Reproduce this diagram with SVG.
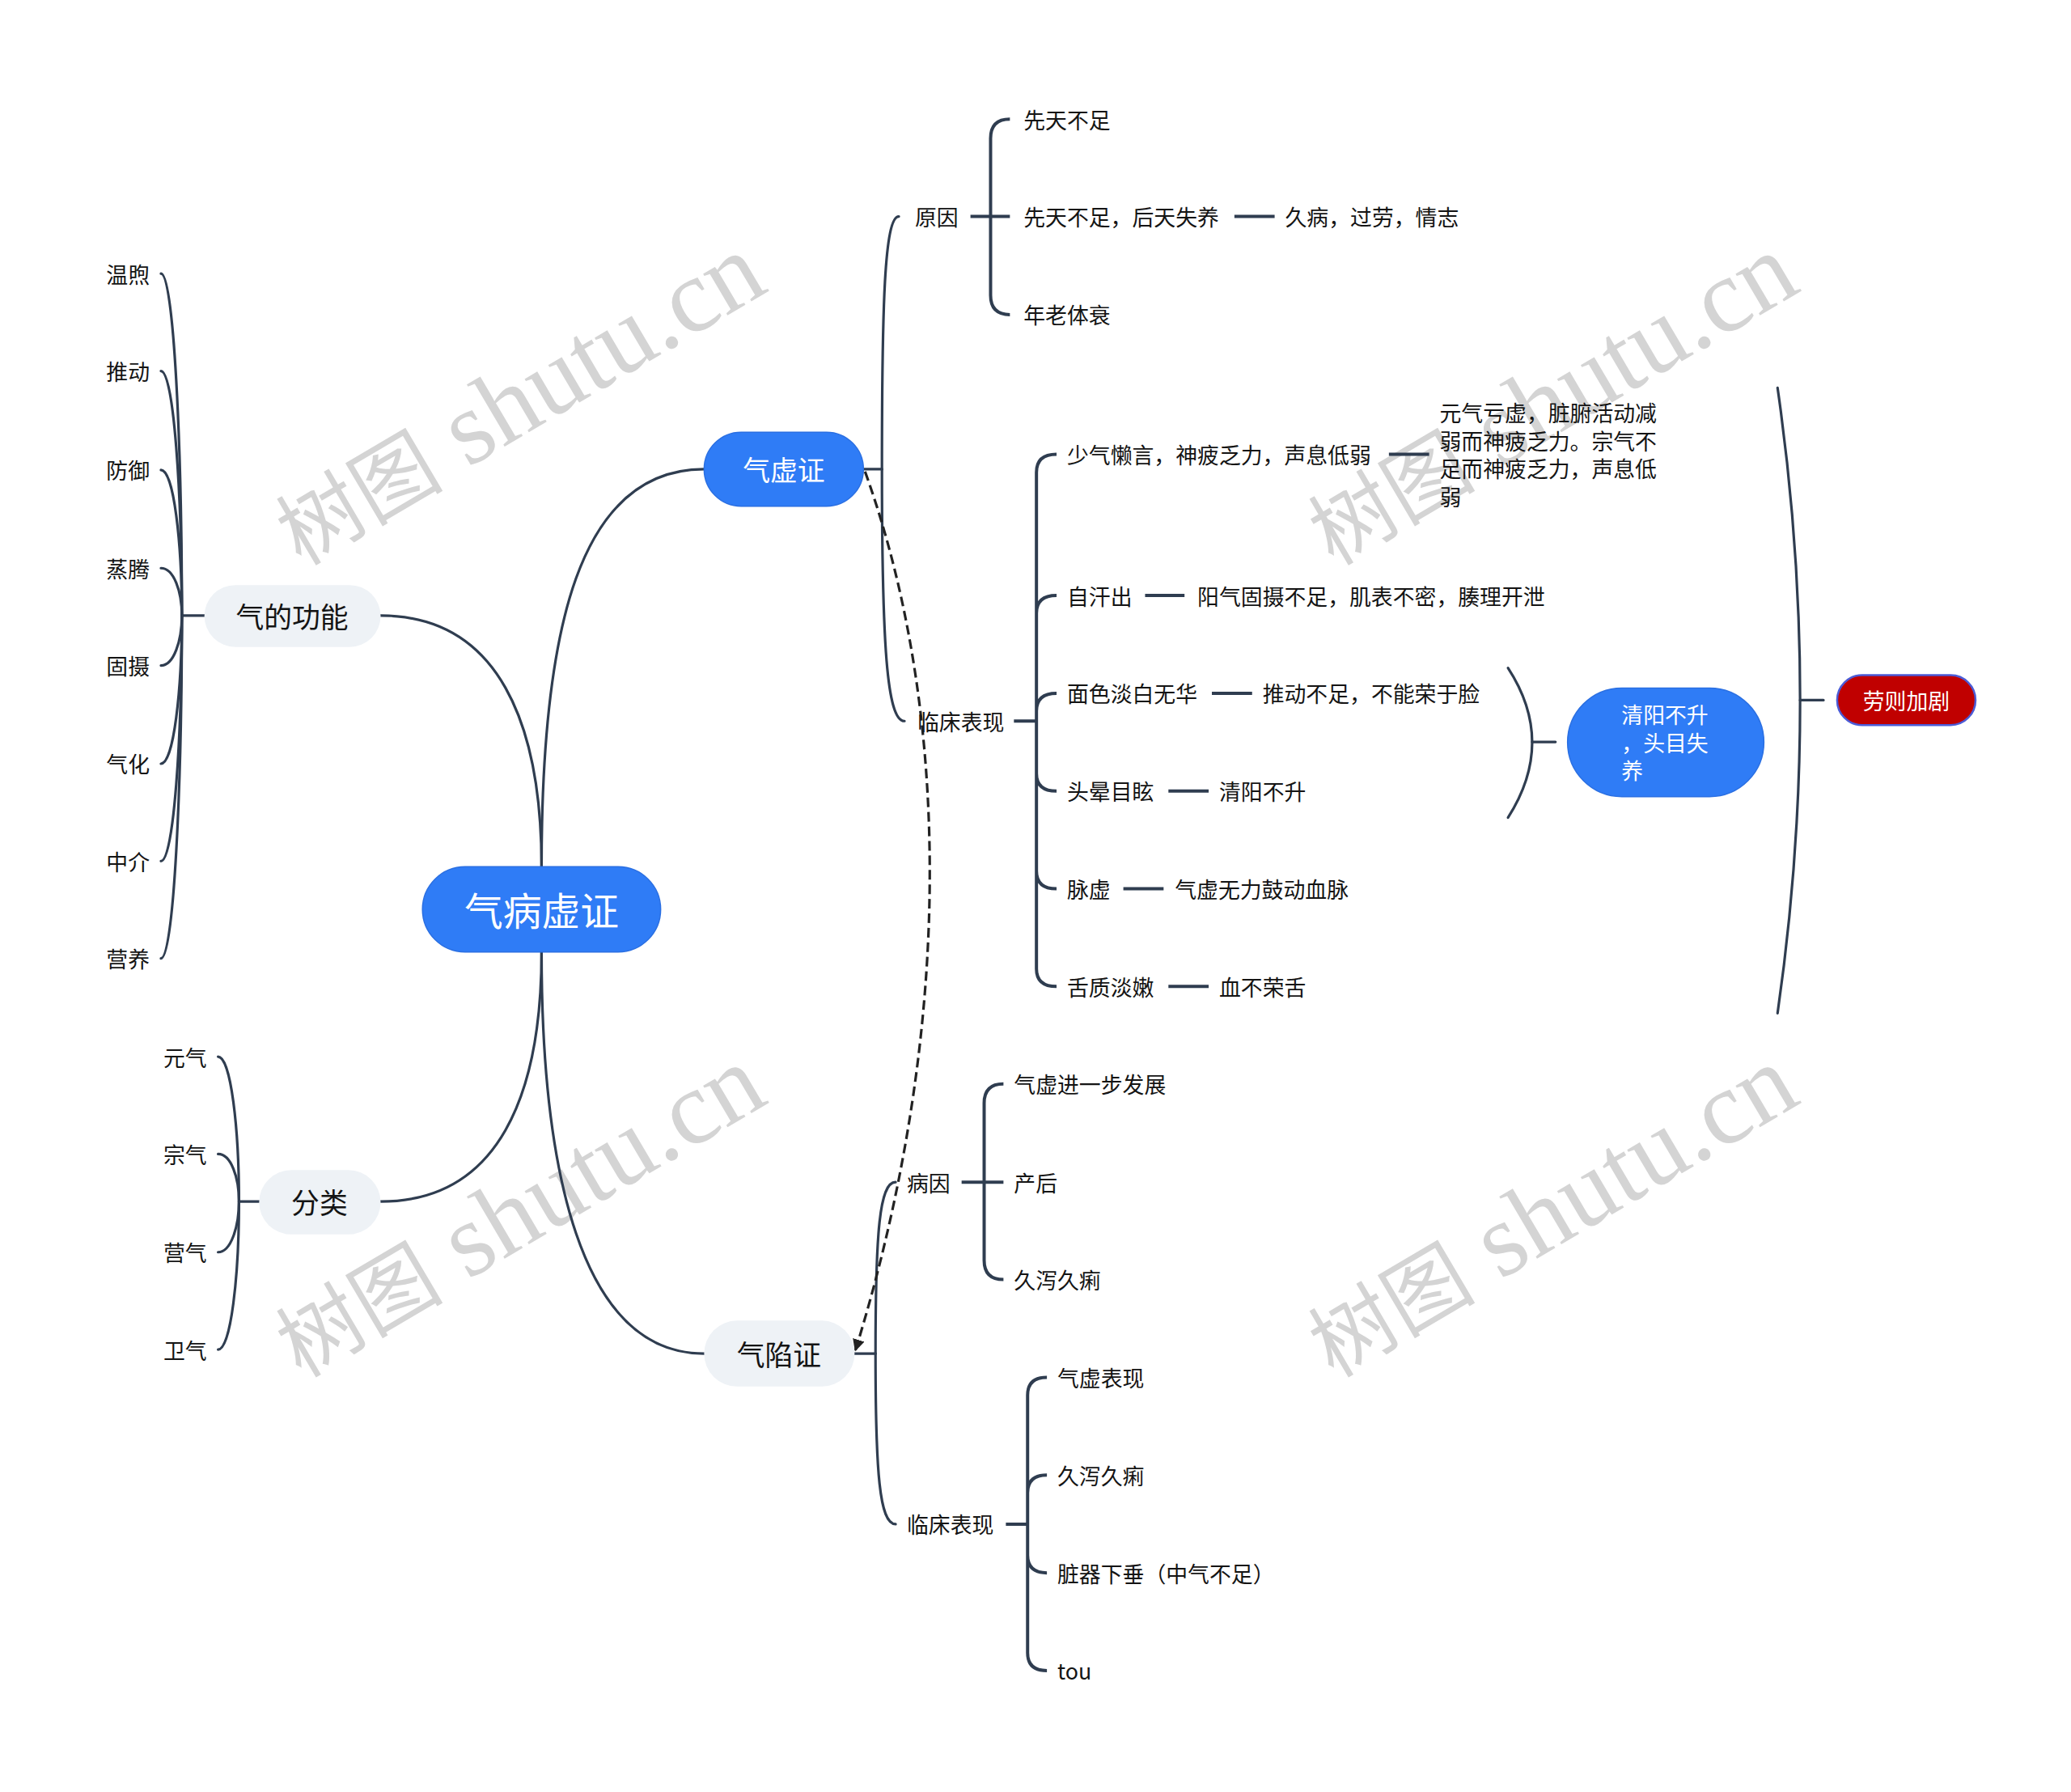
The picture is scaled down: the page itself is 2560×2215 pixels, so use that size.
<svg xmlns="http://www.w3.org/2000/svg" width="2560" height="2215" viewBox="0 0 2560 2215">
<defs>
<style>
.c{fill:none;stroke:#2f3d50;stroke-width:3.2;stroke-linecap:round}
.b{fill:none;stroke:#2f3d50;stroke-width:4}
.d{fill:none;stroke:#222;stroke-width:3.2;stroke-dasharray:12 6}
.t{font-family:"Noto Sans CJK SC","Noto Sans",sans-serif;font-size:27px;fill:#141414;dominant-baseline:central}
.tw{fill:#ffffff}
.big{font-size:35px}
.w{font-family:"Liberation Serif","Noto Sans CJK SC",serif;font-size:130px;fill:#d4d4d4}
.wc{font-size:104px}
.blue{fill:#2f7cf6;stroke:#2a6fe2;stroke-width:1.5}
.lt{fill:#eef2f6}
</style>
<marker id="ah" viewBox="0 0 10 10" refX="9" refY="5" markerWidth="15" markerHeight="15" markerUnits="userSpaceOnUse" orient="auto"><path d="M0,0 L10,5 L0,10 z" fill="#222"/></marker>
</defs>
<rect x="0" y="0" width="2560" height="2215" fill="#ffffff"/>
<g transform="scale(0.9947)">
<g id="watermarks">
<text class="w" transform="translate(374,704) rotate(-30.5)"><tspan class="wc">树图</tspan> shutu.cn</text>
<text class="w" transform="translate(1657,704) rotate(-30.5)"><tspan class="wc">树图</tspan> shutu.cn</text>
<text class="w" transform="translate(374,1713) rotate(-30.5)"><tspan class="wc">树图</tspan> shutu.cn</text>
<text class="w" transform="translate(1657,1713) rotate(-30.5)"><tspan class="wc">树图</tspan> shutu.cn</text>
</g>
<g id="connectors">
<path class="c" d="M673,1077 C673,780 720,583 875,583"/>
<path class="c" d="M673,1077 C673,900 620,765 473,765"/>
<path class="c" d="M673,1183 C673,1360 620,1493 473,1493"/>
<path class="c" d="M673,1183 C673,1450 720,1682 875,1682"/>
<path class="c" d="M254,765 L226,765"/>
<path class="c" d="M226,765 C226,552 216,340 200,340"/>
<path class="c" d="M226,765 C226,613 216,461 200,461"/>
<path class="c" d="M226,765 C226,674 216,584 200,584"/>
<path class="c" d="M226,765 C226,735 216,706 200,706"/>
<path class="c" d="M226,765 C226,796 216,827 200,827"/>
<path class="c" d="M226,765 C226,857 216,949 200,949"/>
<path class="c" d="M226,765 C226,917 216,1070 200,1070"/>
<path class="c" d="M226,765 C226,978 216,1191 200,1191"/>
<path class="c" d="M322,1493 L297,1493"/>
<path class="c" d="M297,1493 C297,1403 287,1313 271,1313"/>
<path class="c" d="M297,1493 C297,1463 287,1434 271,1434"/>
<path class="c" d="M297,1493 C297,1524 287,1556 271,1556"/>
<path class="c" d="M297,1493 C297,1585 287,1677 271,1677"/>
<path class="c" d="M1073,583 L1096,583"/>
<path class="c" d="M1096,583 C1096,380 1099,269 1117,269"/>
<path class="c" d="M1096,583 C1096,800 1102,896 1124,896"/>
<path class="b" d="M1255,148 Q1231,148 1231,172 L1231,367 Q1231,391 1255,391 M1206,269 L1255,269"/>
<path class="b" d="M1534,269 L1584,269"/>
<path class="b" d="M1313,564.5 Q1288,564.5 1288,587 L1288,1203.8 Q1288,1225.8 1313,1225.8 M1288,762 Q1288,740 1313,740 M1288,883.5 Q1288,861.5 1313,861.5 M1288,961 Q1288,983 1313,983 M1288,1082.4 Q1288,1104.4 1313,1104.4 M1260,896 L1288,896"/>
<path class="b" d="M1726,564.5 L1776,564.5"/>
<path class="b" d="M1423,740 L1472,740"/>
<path class="b" d="M1506,861.5 L1556,861.5"/>
<path class="b" d="M1452,983 L1502,983"/>
<path class="b" d="M1396,1104.4 L1446,1104.4"/>
<path class="b" d="M1452,1225.8 L1502,1225.8"/>
<path class="c" d="M1874,830 Q1934,922 1874,1016"/>
<path class="c" d="M1904,922 L1933,922"/>
<path class="c" d="M2209,482 Q2265,870 2209,1259"/>
<path class="c" d="M2237,870 L2266,870"/>
<path class="c" d="M1062,1682 L1088,1682"/>
<path class="c" d="M1088,1682 C1088,1530 1093,1469 1113,1469"/>
<path class="c" d="M1088,1682 C1088,1830 1093,1894 1113,1894"/>
<path class="b" d="M1247,1347 Q1223,1347 1223,1371 L1223,1566 Q1223,1590 1247,1590 M1195,1469 L1247,1469"/>
<path class="b" d="M1301,1711.6 Q1277,1711.6 1277,1733.6 L1277,2054 Q1277,2076 1301,2076 M1277,1855 Q1277,1833 1301,1833 M1277,1932.5 Q1277,1954.5 1301,1954.5 M1250,1894 L1277,1894"/>
<path class="d" d="M1075,586 C1188,900 1180,1300 1063,1678" marker-end="url(#ah)"/>
</g>
<g id="root">
<rect class="blue" x="525" y="1077" width="296" height="106" rx="53"/>
<text class="t tw" x="673" y="1130" text-anchor="middle" style="font-size:48px">气病虚证</text>
</g>
<g id="qixuzheng">
<rect class="blue" x="875" y="537" width="198" height="92" rx="46"/>
<text class="t tw" x="974" y="583" text-anchor="middle" style="font-size:34px">气虚证</text>
</g>
<g id="qixianzheng">
<rect class="lt" x="875" y="1641" width="187" height="82" rx="41"/>
<text class="t big" x="968" y="1682" text-anchor="middle">气陷证</text>
</g>
<g id="qidegongneng">
<rect class="lt" x="254" y="727" width="219" height="77" rx="38.5"/>
<text class="t big" x="363" y="765" text-anchor="middle">气的功能</text>
</g>
<g id="fenlei">
<rect class="lt" x="322" y="1454" width="151" height="80" rx="40"/>
<text class="t big" x="397" y="1493" text-anchor="middle">分类</text>
</g>
<g id="gongneng-items">
<text class="t" x="186" y="340" text-anchor="end">温煦</text>
<text class="t" x="186" y="461" text-anchor="end">推动</text>
<text class="t" x="186" y="584" text-anchor="end">防御</text>
<text class="t" x="186" y="706" text-anchor="end">蒸腾</text>
<text class="t" x="186" y="827" text-anchor="end">固摄</text>
<text class="t" x="186" y="949" text-anchor="end">气化</text>
<text class="t" x="186" y="1070" text-anchor="end">中介</text>
<text class="t" x="186" y="1191" text-anchor="end">营养</text>
</g>
<g id="fenlei-items">
<text class="t" x="257" y="1313" text-anchor="end">元气</text>
<text class="t" x="257" y="1434" text-anchor="end">宗气</text>
<text class="t" x="257" y="1556" text-anchor="end">营气</text>
<text class="t" x="257" y="1677" text-anchor="end">卫气</text>
</g>
<g id="yuanyin">
<text class="t" x="1137" y="269">原因</text>
<text class="t" x="1272" y="148">先天不足</text>
<text class="t" x="1272" y="269">先天不足，后天失养</text>
<text class="t" x="1597" y="269">久病，过劳，情志</text>
<text class="t" x="1272" y="391">年老体衰</text>
</g>
<g id="linchuang1">
<text class="t" x="1140" y="896">临床表现</text>
<text class="t" x="1326" y="564.5">少气懒言，神疲乏力，声息低弱</text>
<text class="t" x="1789" y="512">元气亏虚，脏腑活动减</text>
<text class="t" x="1789" y="547">弱而神疲乏力。宗气不</text>
<text class="t" x="1789" y="582">足而神疲乏力，声息低</text>
<text class="t" x="1789" y="617">弱</text>
<text class="t" x="1326" y="740">自汗出</text>
<text class="t" x="1488" y="740">阳气固摄不足，肌表不密，腠理开泄</text>
<text class="t" x="1326" y="861.5">面色淡白无华</text>
<text class="t" x="1569" y="861.5">推动不足，不能荣于脸</text>
<text class="t" x="1326" y="983">头晕目眩</text>
<text class="t" x="1515" y="983">清阳不升</text>
<text class="t" x="1326" y="1104.4">脉虚</text>
<text class="t" x="1460" y="1104.4">气虚无力鼓动血脉</text>
<text class="t" x="1326" y="1225.8">舌质淡嫩</text>
<text class="t" x="1515" y="1225.8">血不荣舌</text>
</g>
<g id="qingyang">
<rect class="blue" x="1948" y="855" width="244" height="135" rx="67.5"/>
<text class="t tw" x="2015" y="887">清阳不升</text>
<text class="t tw" x="2015" y="922">，头目失</text>
<text class="t tw" x="2015" y="957">养</text>
</g>
<g id="laozejiaju">
<rect x="2283" y="839" width="172" height="62" rx="31" fill="#c00000" stroke="#4b5bd6" stroke-width="2.5"/>
<text class="t tw" x="2369" y="870" text-anchor="middle">劳则加剧</text>
</g>
<g id="bingyin">
<text class="t" x="1127" y="1469">病因</text>
<text class="t" x="1260" y="1347">气虚进一步发展</text>
<text class="t" x="1260" y="1469">产后</text>
<text class="t" x="1260" y="1590">久泻久痢</text>
</g>
<g id="linchuang2">
<text class="t" x="1127" y="1894">临床表现</text>
<text class="t" x="1314" y="1711.6">气虚表现</text>
<text class="t" x="1314" y="1833">久泻久痢</text>
<text class="t" x="1314" y="1954.5">脏器下垂（中气不足）</text>
<text class="t" x="1314" y="2076">tou</text>
</g>
</g>
</svg>
